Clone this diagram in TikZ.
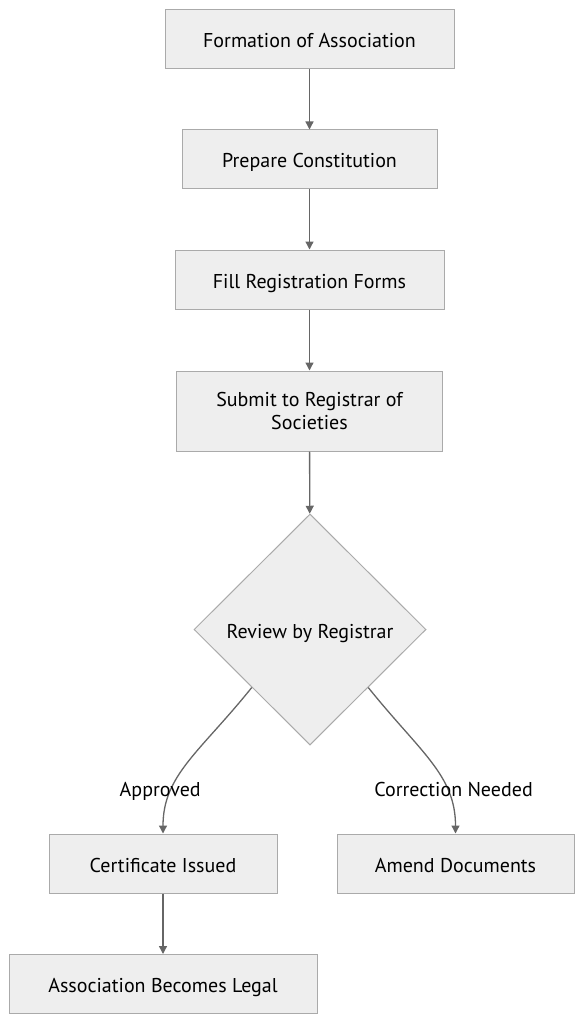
\documentclass[tikz,border=0pt]{standalone}
\usepackage{fontspec}
\setmainfont{PT Sans}
\usetikzlibrary{shapes.geometric,arrows.meta}
\definecolor{boxfill}{HTML}{EEEEEE}
\definecolor{boxline}{HTML}{AAAAAA}
\definecolor{arrowgray}{HTML}{666666}

\begin{document}
\begin{tikzpicture}[x=1pt,y=-1pt,
  box/.style={draw=boxline,fill=boxfill,line width=1pt,minimum height=59pt,
    inner sep=0pt,align=center,text height=19pt,text depth=2pt,
    font=\fontsize{20}{23}\selectfont},
  decision/.style={diamond,draw=boxline,fill=boxfill,line width=1pt,
    minimum width=232pt,minimum height=231pt,inner sep=0pt,
    text height=19pt,text depth=2pt,font=\fontsize{20}{23}\selectfont},
  arr/.style={draw=arrowgray,line width=1.3pt,-{Triangle[length=8pt,width=8pt]}},
  lbl/.style={font=\fontsize{20}{23}\selectfont,inner sep=1pt}]

\useasboundingbox (0,0) rectangle (584,1024);

\node[box,minimum width=289pt] (form) at (309.5,39.5) {Formation of Association};
\node[box,minimum width=255pt] (const) at (309.5,159.5) {Prepare Constitution};
\node[box,minimum width=269pt] (fill) at (309.5,279.5) {Fill Registration Forms};
\node[box,minimum width=266pt,minimum height=80pt,text height={},text depth={}]
  (submit) at (309.5,411) {Submit to Registrar of\\Societies};
\node[decision] (review) at (310,629.5) {Review by Registrar};
\node[box,minimum width=228pt] (cert) at (163,863.5) {Certificate Issued};
\node[box,minimum width=237pt] (amend) at (455.5,863.5) {Amend Documents};
\node[box,minimum width=308pt] (legal) at (163,984) {Association Becomes Legal};

\draw[arr] (form) -- (const);
\draw[arr] (const) -- (fill);
\draw[arr] (fill) -- (submit);
\draw[arr] (submit) -- (review);

\draw[arr] (review.south west) .. controls (200,752) and (163,775) .. (cert.north)
  node[lbl,pos=0.72,xshift=-11pt] {Approved};
\draw[arr] (review.south east) .. controls (420,752) and (455.5,775) .. (amend.north)
  node[lbl,pos=0.72,xshift=6pt,yshift=2pt] {Correction Needed};

\draw[arr] (cert) -- (legal);
\end{tikzpicture}
\end{document}
